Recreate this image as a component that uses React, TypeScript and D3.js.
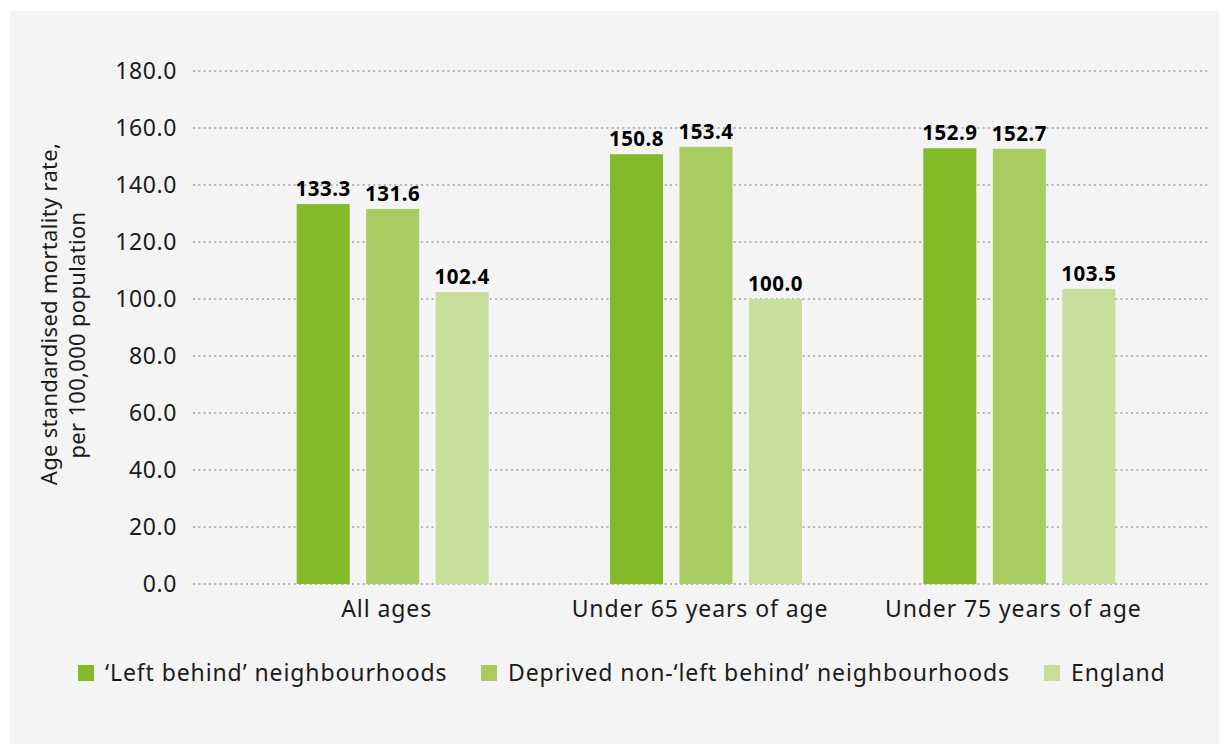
import React from "react";
import * as d3 from "d3";

const categories = ["All ages", "Under 65 years of age", "Under 75 years of age"];
const seriesNames = ["\u2018Left behind\u2019 neighbourhoods", "Deprived non-\u2018left behind\u2019 neighbourhoods", "England"];
const leftBehind = [133.3, 150.8, 152.9];
const deprived = [131.6, 153.4, 152.7];
const england = [102.4, 100.0, 103.5];
const yTicks = [0, 20, 40, 60, 80, 100, 120, 140, 160, 180];
const colors = ["#82BA2A", "#A8CB62", "#C8DE9C"];

const W = 1224;
const H = 744;
const FONT = "'Noto Sans', sans-serif";

export default function App() {
  const series = [leftBehind, deprived, england];
  const y = d3.scaleLinear().domain([0, 180]).range([584, 71]);
  const x = d3.scaleBand<string>().domain(categories).range([236, 1176]).padding(0);
  const inner = d3.scaleBand<number>().domain([0, 1, 2]).range([-96, 96]).paddingInner(0.237).paddingOuter(0);
  const legendX = [78, 481, 1044];

  return (
    <svg width={W} height={H} style={{ position: "absolute", left: 0, top: 0, display: "block" }}>
      <rect x={0} y={0} width={W} height={H} fill="#ffffff" />
      <rect x={10} y={11} width={1209} height={H - 11} fill="#F4F4F4" />
      {yTicks.map((t) => (
        <g key={t}>
          <line x1={193} x2={1210} y1={y(t)} y2={y(t)} stroke="#B5B5B5" strokeWidth={2} strokeDasharray="2,3.3" />
          <text x={177} y={y(t)} dy="0.36em" textAnchor="end" fontFamily={FONT} fontSize={23} letterSpacing={0.6} fill="#1a1a1a">
            {t.toFixed(1)}
          </text>
        </g>
      ))}
      {categories.map((c, ci) => {
        const cx = (x(c) as number) + x.bandwidth() / 2;
        return (
          <g key={c}>
            {series.map((s, si) => {
              const bx = cx + (inner(si) as number);
              const v = s[ci];
              return (
                <g key={si}>
                  <rect x={bx} y={y(v)} width={inner.bandwidth()} height={y(0) - y(v)} fill={colors[si]} />
                  <text x={bx + inner.bandwidth() / 2} y={y(v) - 8} textAnchor="middle" fontFamily={FONT} fontWeight={700} fontSize={20.5} letterSpacing={0.5} fill="#000">
                    {v.toFixed(1)}
                  </text>
                </g>
              );
            })}
            <text x={cx - 6} y={617} textAnchor="middle" fontFamily={FONT} fontSize={23} letterSpacing={0.9} fill="#1a1a1a">
              {c}
            </text>
          </g>
        );
      })}
      <text transform="translate(57,314) rotate(-90)" textAnchor="middle" fontFamily={FONT} fontSize={22} letterSpacing={0.3} fill="#1a1a1a">
        Age standardised mortality rate,
      </text>
      <text transform="translate(85,335) rotate(-90)" textAnchor="middle" fontFamily={FONT} fontSize={22} letterSpacing={0.3} fill="#1a1a1a">
        per 100,000 population
      </text>
      {seriesNames.map((n, i) => (
        <g key={n}>
          <rect x={legendX[i]} y={665} width={16} height={16} fill={colors[i]} />
          <text x={legendX[i] + 27} y={681} fontFamily={FONT} fontSize={23} letterSpacing={0.9} fill="#1a1a1a">
            {n}
          </text>
        </g>
      ))}
    </svg>
  );
}
